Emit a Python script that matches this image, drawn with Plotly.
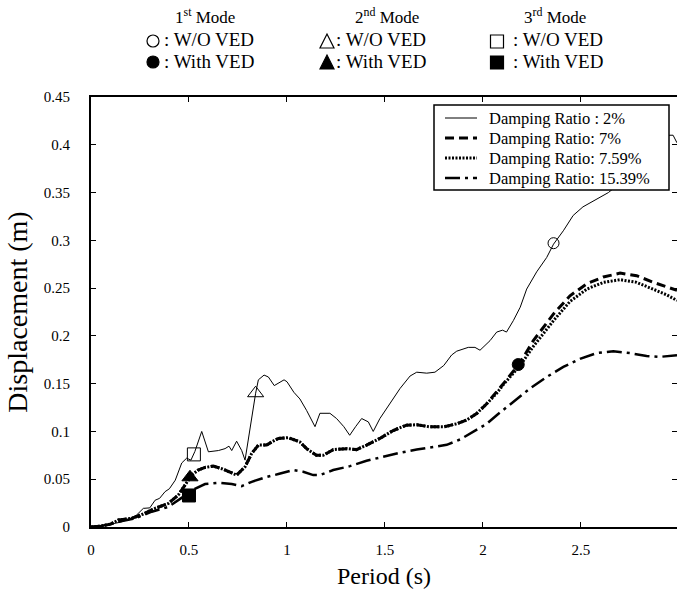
import plotly.graph_objects as go

# ---- data ----
x_d2 = [0, 0.05, 0.10, 0.15, 0.19, 0.23, 0.267, 0.30, 0.327, 0.35, 0.378, 0.40, 0.43, 0.463,
        0.488, 0.51, 0.53, 0.565, 0.599, 0.65, 0.684, 0.704, 0.718, 0.743, 0.769, 0.786,
        0.84, 0.854, 0.883, 0.905, 0.935, 0.964, 0.985, 1.0, 1.035, 1.066, 1.10, 1.143,
        1.168, 1.219, 1.253, 1.29, 1.32, 1.35, 1.381, 1.415, 1.44, 1.474, 1.526, 1.577,
        1.628, 1.662, 1.713, 1.755, 1.80, 1.84, 1.866, 1.925, 1.959, 1.985, 2.036, 2.07,
        2.10, 2.12, 2.155, 2.19, 2.223, 2.274, 2.325, 2.36, 2.41, 2.46, 2.51, 2.555, 2.597,
        2.64, 2.7, 2.8, 2.9, 2.95, 2.97, 2.99]
y_d2 = [0, 0.001, 0.003, 0.005, 0.008, 0.012, 0.0195, 0.020, 0.028, 0.030, 0.037, 0.040, 0.049, 0.067,
        0.072, 0.070, 0.079, 0.100, 0.0787, 0.080, 0.082, 0.0846, 0.080, 0.0898, 0.080, 0.070,
        0.140, 0.154, 0.159, 0.157, 0.148, 0.152, 0.154, 0.152, 0.141, 0.134, 0.122, 0.105,
        0.119, 0.119, 0.1135, 0.105, 0.096, 0.105, 0.1135, 0.110, 0.100, 0.1135, 0.129, 0.145,
        0.158, 0.162, 0.161, 0.162, 0.169, 0.180, 0.184, 0.188, 0.188, 0.185, 0.195, 0.204,
        0.206, 0.204, 0.216, 0.230, 0.249, 0.267, 0.282, 0.296, 0.310, 0.326, 0.335, 0.340, 0.345,
        0.350, 0.360, 0.375, 0.395, 0.410, 0.410, 0.402]

x_d7 = [0, 0.05, 0.10, 0.14, 0.208, 0.267, 0.327, 0.395, 0.445, 0.48, 0.514, 0.547, 0.582, 0.624,
        0.667, 0.718, 0.743, 0.786, 0.82, 0.854, 0.896, 0.922, 0.956, 1.007, 1.037, 1.066, 1.10,
        1.15, 1.185, 1.236, 1.305, 1.355, 1.406, 1.474, 1.542, 1.61, 1.662, 1.73, 1.80, 1.866,
        1.917, 1.968, 2.019, 2.07, 2.104, 2.19, 2.257, 2.36, 2.444, 2.53, 2.614, 2.70, 2.784,
        2.87, 2.937, 2.99]
y_d7 = [0, 0.001, 0.003, 0.0073, 0.009, 0.0136, 0.0195, 0.0247, 0.0334, 0.0439, 0.0543, 0.0596, 0.0623, 0.0637,
        0.061, 0.0567, 0.0543, 0.063, 0.077, 0.0857, 0.0857, 0.089, 0.0927, 0.0935, 0.0916, 0.089, 0.082,
        0.075, 0.075, 0.081, 0.082, 0.081, 0.0857, 0.0927, 0.101, 0.1066, 0.107, 0.1048, 0.1048, 0.108,
        0.112, 0.1188, 0.129, 0.141, 0.150, 0.172, 0.195, 0.223, 0.242, 0.2546, 0.2616, 0.2657, 0.263,
        0.256, 0.251, 0.2477]

x_d759 = x_d7
y_d759 = [0, 0.001, 0.003, 0.0073, 0.009, 0.0136, 0.0195, 0.0247, 0.0334, 0.0439, 0.0543, 0.0596, 0.0623, 0.0637,
          0.061, 0.0567, 0.0543, 0.063, 0.077, 0.0857, 0.0857, 0.089, 0.0927, 0.0935, 0.0916, 0.089, 0.082,
          0.075, 0.075, 0.081, 0.082, 0.081, 0.0857, 0.0927, 0.101, 0.1066, 0.107, 0.1048, 0.1048, 0.108,
          0.112, 0.1188, 0.129, 0.140, 0.149, 0.169, 0.189, 0.216, 0.236, 0.249, 0.256, 0.2588, 0.256,
          0.249, 0.243, 0.237]

x_d1539 = [0, 0.05, 0.10, 0.14, 0.224, 0.31, 0.395, 0.445, 0.497, 0.53, 0.582, 0.65, 0.718, 0.769,
           0.82, 0.888, 0.956, 1.032, 1.083, 1.134, 1.168, 1.236, 1.321, 1.406, 1.491, 1.577, 1.662,
           1.747, 1.815, 1.883, 1.95, 2.019, 2.07, 2.155, 2.24, 2.325, 2.41, 2.495, 2.58, 2.665,
           2.75, 2.835, 2.90, 2.99]
y_d1539 = [0, 0.001, 0.003, 0.0056, 0.009, 0.016, 0.021, 0.028, 0.036, 0.040, 0.045, 0.0463, 0.045, 0.0428,
           0.0473, 0.0519, 0.0554, 0.0596, 0.0578, 0.0543, 0.0543, 0.0596, 0.0637, 0.0693, 0.0735, 0.0777, 0.0810,
           0.0835, 0.0860, 0.0916, 0.0996, 0.108, 0.117, 0.131, 0.145, 0.157, 0.1675, 0.176, 0.182, 0.184,
           0.182, 0.179, 0.178, 0.1797]

series_names = ["Damping Ratio : 2%", "Damping Ratio: 7%", "Damping Ratio: 7.59%", "Damping Ratio: 15.39%"]
mode_heads = ["1<sup>st</sup> Mode", "2<sup>nd</sup> Mode", "3<sup>rd</sup> Mode"]
mode_labels = [": W/O VED", ": With VED"]

# modal points: (period, displacement)
mode1_wo = (2.36, 0.297)
mode1_with = (2.18, 0.170)
mode2_wo = (0.84, 0.140)
mode2_with = (0.505, 0.052)
mode3_wo = (0.525, 0.076)
mode3_with = (0.50, 0.033)

FONT = "Liberation Serif"

line_styles = [dict(color="black", width=1),
               dict(color="black", width=3, dash="9px,5px"),
               dict(color="black", width=3, dash="2px,1.5px"),
               dict(color="black", width=2.5, dash="15px,5px,3px,5px")]

fig = go.Figure()
for xs, ys, nm, ls in [(x_d2, y_d2, series_names[0], line_styles[0]),
                       (x_d7, y_d7, series_names[1], line_styles[1]),
                       (x_d759, y_d759, series_names[2], line_styles[2]),
                       (x_d1539, y_d1539, series_names[3], line_styles[3])]:
    fig.add_trace(go.Scatter(x=xs, y=ys, mode="lines", name=nm, line=ls, showlegend=False))

markers = [
    (mode1_wo, "circle-open", 11),
    (mode1_with, "circle", 12),
    (mode2_wo, "triangle-up-open", 14),
    (mode2_with, "triangle-up", 14),
    (mode3_wo, "square-open", 13),
    (mode3_with, "square", 13),
]
for (px, py), sym, sz in markers:
    fig.add_trace(go.Scatter(x=[px], y=[py], mode="markers", showlegend=False,
                             marker=dict(symbol=sym, size=sz, color="black",
                                         line=dict(color="black", width=1))))

# ---- pixel -> paper helpers for the decorations ----
L, W = 91, 586
B, H = 527, 430
def px2x(p): return (p - L) / W
def py2y(p): return (B - p) / H

anns = []
shapes = []

# top "mode" key
for cx, t in zip([205, 387, 555], mode_heads):
    anns.append(dict(x=px2x(cx), y=py2y(16), xref="paper", yref="paper", text=t,
                     showarrow=False, xanchor="center", yanchor="middle",
                     font=dict(family=FONT, size=17, color="black")))
for col, (gx, tx, kind) in enumerate([(153, 162, "circle"), (327, 334, "tri"), (497, 511, "sq")]):
    for row, gy in enumerate([41, 62]):
        fill = "white" if row == 0 else "black"
        if kind == "circle":
            shapes.append(dict(type="circle", xref="paper", yref="paper",
                               x0=px2x(gx - 6), x1=px2x(gx + 6), y0=py2y(gy + 6), y1=py2y(gy - 6),
                               fillcolor=fill, line=dict(color="black", width=1.2)))
        elif kind == "sq":
            shapes.append(dict(type="rect", xref="paper", yref="paper",
                               x0=px2x(gx - 6.5), x1=px2x(gx + 6.5), y0=py2y(gy + 7), y1=py2y(gy - 6),
                               fillcolor=fill, line=dict(color="black", width=1.2)))
        else:
            path = "M {:.5f},{:.5f} L {:.5f},{:.5f} L {:.5f},{:.5f} Z".format(
                px2x(gx - 7), py2y(gy + 7), px2x(gx + 7), py2y(gy + 7), px2x(gx), py2y(gy - 7))
            shapes.append(dict(type="path", xref="paper", yref="paper", path=path,
                               fillcolor=fill, line=dict(color="black", width=1.2)))
        anns.append(dict(x=px2x(tx), y=py2y(gy - 1), xref="paper", yref="paper",
                         text=mode_labels[row], showarrow=False, xanchor="left", yanchor="middle",
                         font=dict(family=FONT, size=19, color="black")))

# damping-ratio key box (inside plot, top right)
shapes.append(dict(type="rect", xref="paper", yref="paper", layer="above",
                   x0=px2x(434), x1=px2x(669), y0=py2y(190), y1=py2y(105),
                   fillcolor="white", line=dict(color="black", width=1.5)))
for i, (nm, ls) in enumerate(zip(series_names, line_styles)):
    ry = 118 + i * 20
    shapes.append(dict(type="line", xref="paper", yref="paper", layer="above",
                       x0=px2x(445), x1=px2x(477), y0=py2y(ry), y1=py2y(ry),
                       line=ls))
    anns.append(dict(x=px2x(487), y=py2y(ry), xref="paper", yref="paper", text=nm,
                     showarrow=False, xanchor="left", yanchor="middle",
                     font=dict(family=FONT, size=16.5, color="black")))

fig.update_layout(
    width=677, height=593,
    margin=dict(l=91, r=0, t=97, b=66, autoexpand=False),
    paper_bgcolor="white", plot_bgcolor="white",
    font=dict(family=FONT, color="black"),
    showlegend=False,
    annotations=anns,
    shapes=shapes,
)
fig.update_xaxes(range=[0, 2.99], dtick=0.5, tick0=0, showgrid=False, zeroline=False,
                 showline=True, linecolor="black", linewidth=2, mirror="ticks",
                 ticks="inside", ticklen=5, tickcolor="black", tickwidth=1,
                 ticklabelstandoff=8,
                 tickfont=dict(family=FONT, size=15, color="black"),
                 title=dict(text="Period (s)", standoff=10,
                            font=dict(family=FONT, size=24, color="black")))
fig.update_yaxes(range=[0, 0.45], dtick=0.05, tick0=0, showgrid=False, zeroline=False,
                 showline=True, linecolor="black", linewidth=2, mirror="ticks",
                 ticks="inside", ticklen=5, tickcolor="black", tickwidth=1,
                 ticklabelstandoff=16,
                 tickfont=dict(family=FONT, size=15, color="black"),
                 title=dict(text="Displacement (m)", standoff=8,
                            font=dict(family=FONT, size=28, color="black")))

fig.write_html("out.html")
